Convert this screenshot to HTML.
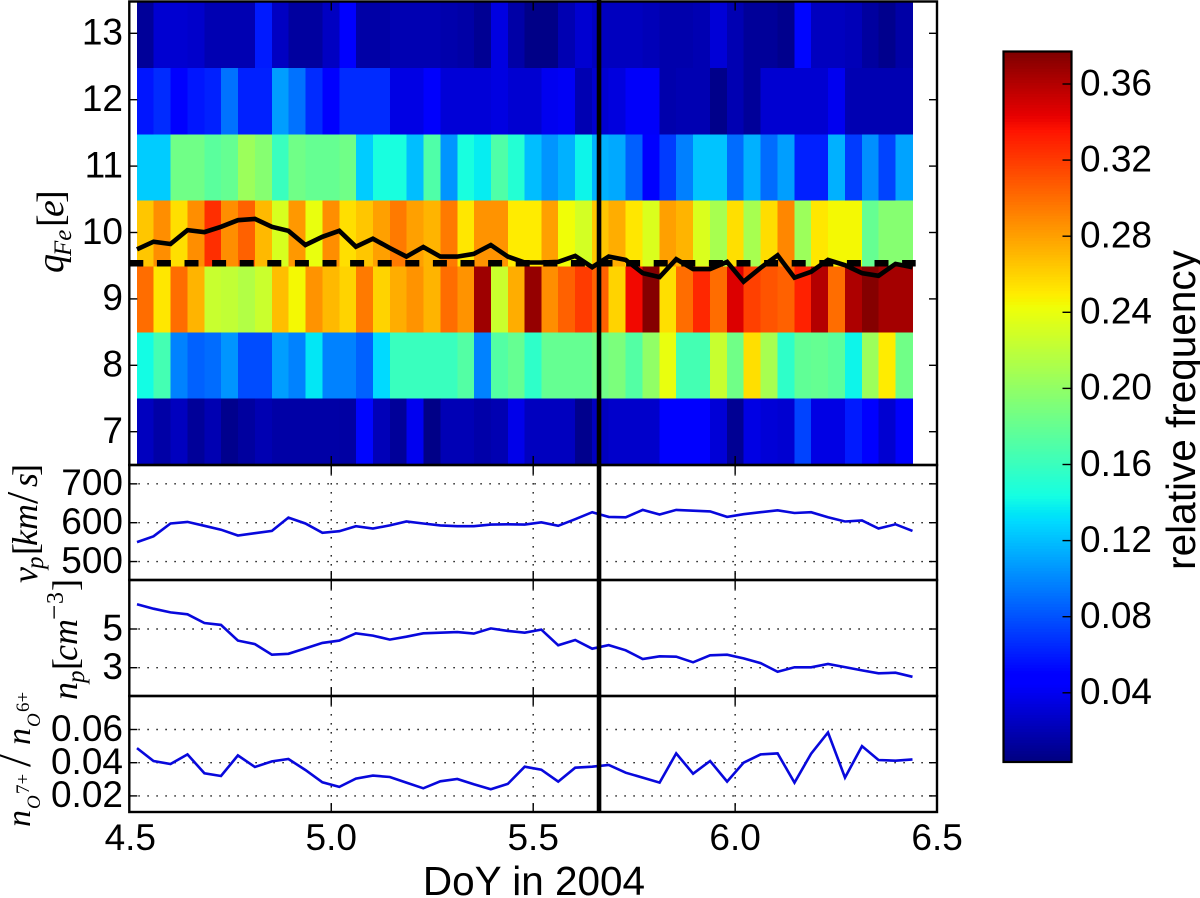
<!DOCTYPE html>
<html>
<head>
<meta charset="utf-8">
<title>Fe charge state heatmap</title>
<style>
html,body{margin:0;padding:0;background:#fff;}
svg{display:block;}
text{fill:#000;font-family:"Liberation Sans",sans-serif;}
.tick{font-size:37px;}
.axis{font-size:40.5px;}
.math{font-family:"Liberation Serif",serif;font-style:italic;font-size:36px;}
.math .up{font-style:normal;}
</style>
</head>
<body>
<svg id="chart" xmlns="http://www.w3.org/2000/svg" width="1200" height="898" viewBox="0 0 1200 898">
  <rect x="0" y="0" width="1200" height="898" fill="#fff"/>
  <g id="heat" shape-rendering="crispEdges"></g>
  <g id="grid"></g>
  <g id="series"></g>
  <g id="ticks"></g>
  <g id="frames"></g>
  <g id="event"></g>
  <g id="labels"></g>
  <g id="colorbar"></g>

  <text class="axis" x="534" y="895" text-anchor="middle">DoY in 2004</text>
  <text class="axis" transform="translate(1195,410) rotate(-90)" text-anchor="middle">relative frequency</text>

  <text class="math" transform="translate(63,273) rotate(-90)" style="font-size:38px">q<tspan x="17" dy="8" font-size="25">Fe</tspan><tspan class="up" x="46" dy="-8">[</tspan><tspan x="56">e</tspan><tspan class="up" x="70">]</tspan></text>
  <text class="math" transform="translate(37,583) rotate(-90)">v<tspan x="14" dy="6" font-size="25">p</tspan><tspan class="up" x="28" dy="-6">[</tspan><tspan x="37">km</tspan><tspan class="up" x="79" font-size="44">/</tspan><tspan x="96">s</tspan><tspan class="up" x="107">]</tspan></text>
  <text class="math" transform="translate(77,700) rotate(-90)">n<tspan x="17" dy="7" font-size="25">p</tspan><tspan class="up" x="30" dy="-7">[</tspan><tspan x="39">cm</tspan><tspan class="up" x="80" dy="-14" font-size="27">&#8722;</tspan><tspan class="up" x="96" font-size="24">3</tspan><tspan class="up" x="109" dy="14">]</tspan></text>
  <text class="math" transform="translate(30,827) rotate(-90)" style="font-size:34px">n<tspan x="18" dy="10" font-size="19">O</tspan><tspan class="up" x="33" dy="-11" font-size="19">7+</tspan><tspan class="up" x="60" dy="1" font-size="46">/</tspan><tspan x="82">n</tspan><tspan x="100" dy="10" font-size="19">O</tspan><tspan class="up" x="115" dy="-11" font-size="19">6+</tspan></text>
</svg>
<script>
const doy=[4.519,4.560,4.602,4.644,4.686,4.727,4.769,4.811,4.853,4.894,4.936,4.978,5.020,5.061,5.103,5.145,5.186,5.228,5.270,5.312,5.353,5.395,5.437,5.479,5.520,5.562,5.604,5.646,5.687,5.729,5.771,5.813,5.854,5.896,5.938,5.980,6.021,6.063,6.105,6.147,6.188,6.230,6.272,6.314,6.355,6.397,6.439];
const chargeStates=[13,12,11,10,9,8,7];
const freqQ13=[.012,.03,.03,.028,.02,.02,.02,.06,.025,.014,.014,.025,.045,.016,.016,.02,.02,.02,.018,.016,.01,.035,.016,.006,.006,.02,.03,.024,.024,.024,.022,.018,.018,.02,.032,.02,.012,.012,.008,.052,.024,.024,.022,.014,.008,.016];
const freqQ12=[.058,.066,.045,.058,.062,.092,.062,.062,.108,.092,.066,.045,.066,.066,.066,.036,.036,.044,.032,.032,.032,.035,.03,.03,.04,.042,.02,.03,.034,.043,.043,.018,.02,.02,.007,.02,.012,.03,.03,.03,.03,.04,.02,.02,.02,.02];
const freqQ11=[.125,.125,.185,.185,.175,.18,.205,.195,.16,.185,.18,.18,.185,.125,.145,.145,.12,.17,.105,.145,.137,.17,.15,.12,.105,.115,.14,.115,.112,.085,.045,.072,.097,.122,.122,.09,.115,.09,.108,.062,.062,.115,.072,.103,.075,.11];
const freqQ10=[.265,.287,.255,.287,.325,.287,.305,.27,.232,.283,.24,.287,.255,.265,.28,.295,.28,.272,.295,.252,.285,.285,.25,.25,.28,.243,.23,.265,.275,.252,.233,.28,.272,.233,.21,.255,.21,.256,.29,.205,.252,.245,.245,.18,.195,.195];
const freqQ9=[.3,.252,.3,.272,.225,.222,.215,.226,.268,.245,.285,.27,.26,.295,.26,.275,.285,.272,.3,.285,.367,.226,.275,.37,.287,.305,.32,.305,.26,.34,.375,.255,.3,.328,.3,.347,.318,.31,.305,.33,.36,.3,.362,.375,.365,.365];
const freqQ8=[.143,.165,.098,.086,.09,.105,.078,.078,.108,.098,.135,.098,.098,.086,.13,.16,.16,.16,.16,.172,.098,.172,.18,.155,.18,.18,.18,.185,.19,.172,.2,.24,.165,.165,.225,.185,.255,.21,.155,.178,.18,.175,.14,.205,.25,.185];
const freqQ7=[.024,.016,.024,.012,.02,.008,.014,.02,.016,.016,.016,.016,.015,.052,.022,.012,.04,.006,.021,.021,.017,.02,.038,.024,.024,.024,.008,.024,.028,.028,.028,.045,.045,.05,.032,.01,.036,.032,.03,.075,.036,.036,.06,.045,.03,.044];
const heatRows=[freqQ13,freqQ12,freqQ11,freqQ10,freqQ9,freqQ8,freqQ7];
const meanCharge=[9.76,9.875,9.84,10.05,10.02,10.10,10.2,10.22,10.10,10.04,9.825,9.95,10.04,9.80,9.92,9.78,9.65,9.795,9.65,9.65,9.69,9.825,9.65,9.56,9.56,9.57,9.66,9.49,9.65,9.60,9.40,9.34,9.61,9.46,9.46,9.57,9.27,9.48,9.67,9.33,9.42,9.60,9.52,9.40,9.36,9.54,9.49];
const overallCharge=[9.55];
const dashedSpan=[4.5,6.447];
const eventDoy=[5.663];
const speed=[550,565,598,602,592,582,567,573,579,613,598,574,578,591,585,593,603,598,593,591,591,595,596,595,601,592,609,627,615,614,633,621,633,631,629,615,622,627,632,625,627,614,603,606,585,596,579];
const density=[6.28,6.05,5.86,5.76,5.31,5.21,4.40,4.22,3.67,3.72,4.0,4.28,4.40,4.78,4.66,4.45,4.6,4.78,4.81,4.84,4.76,5.03,4.9,4.81,4.97,4.16,4.43,3.98,4.17,3.9,3.45,3.59,3.57,3.28,3.64,3.67,3.48,3.24,2.79,3.02,3.02,3.19,3.03,2.86,2.71,2.74,2.53];
const oxygenRatio=[.0488,.041,.0392,.045,.0336,.032,.0444,.0374,.0408,.0422,.0356,.0282,.0254,.0304,.0322,.0314,.028,.0246,.0288,.0302,.027,.024,.0272,.0376,.0358,.0286,.037,.0376,.0386,.034,.031,.028,.0456,.0334,.041,.0286,.04,.045,.0456,.028,.0454,.0582,.031,.05,.0416,.0412,.042];
const xTicks=[4.5,5.0,5.5,6.0,6.5];
const xTickLabels=["4.5","5.0","5.5","6.0","6.5"];
const qTicks=[7,8,9,10,11,12,13];
const speedTicks=[500,600,700];
const densityTicks=[3,5];
const ratioTicks=[0.02,0.04,0.06];
const ratioTickLabels=["0.02","0.04","0.06"];
const cbTicks=[0.04,0.08,0.12,0.16,0.20,0.24,0.28,0.32,0.36];
const cbTickLabels=["0.04","0.08","0.12","0.16","0.20","0.24","0.28","0.32","0.36"];
const colorRange=[0.0037,0.3768];

const NS="http://www.w3.org/2000/svg";
const L=129.3,R=937;
const X=d=>L+(d-4.5)*403.9;
const yQ=q=>266.5+(9.5-q)*66.1;
const yQTick=q=>431.7-(q-7)*66.4;
const yV=v=>522.7-(v-600)*0.3885;
const yN=n=>629-(n-5)*19.35;
const yR=r=>762.7-(r-0.04)*1660;
const yC=v=>84+(0.36-v)*1902.5;
const panels=[{top:1.5,bot:465},{top:465,bot:580},{top:580,bot:696},{top:696,bot:812}];
const LABEL_SHIFT=11.3;

function ramp(t,a,b,va,vb){return va+(vb-va)*Math.min(1,Math.max(0,(t-a)/(b-a)));}
function jet(v){
  const t=(v-colorRange[0])/(colorRange[1]-colorRange[0]);
  const r=t<.89?ramp(t,.35,.66,0,1):ramp(t,.89,1,1,.5);
  const g=t<.64?ramp(t,.125,.375,0,1):ramp(t,.64,.91,1,0);
  const b=t<.34?ramp(t,0,.11,.5,1):ramp(t,.34,.65,1,0);
  return "rgb("+Math.round(r*255)+","+Math.round(g*255)+","+Math.round(b*255)+")";
}
function make(parent,tag,props){
  const el=document.createElementNS(NS,tag);
  for(const k in props){el.setAttribute(k,props[k]);}
  parent.appendChild(el);
  return el;
}
const gHeat=document.getElementById("heat"),gGrid=document.getElementById("grid"),gSeries=document.getElementById("series"),
  gTicks=document.getElementById("ticks"),gFrames=document.getElementById("frames"),gEvent=document.getElementById("event"),
  gLabels=document.getElementById("labels"),gCb=document.getElementById("colorbar");

heatRows.forEach((row,ri)=>{
  const q=chargeStates[ri];
  row.forEach((val,ci)=>{
    const cell=make(gHeat,"rect",{x:X(doy[ci]),y:yQ(q+0.5),width:X(doy[ci+1])-X(doy[ci])+0.3,height:yQ(q-0.5)-yQ(q+0.5)+0.3,fill:jet(val)});
    
    
  });
});

function polyPoints(values,yf){return values.map((v,i)=>X(doy[i]).toFixed(1)+","+yf(v).toFixed(1)).join(" ");}

const lineMean=make(gSeries,"polyline",{points:polyPoints(meanCharge,yQ),fill:"none",stroke:"#000","stroke-width":4.6,"stroke-linejoin":"miter"});


const lineDash=make(gSeries,"line",{x1:X(dashedSpan[0]),x2:X(dashedSpan[1]),y1:yQ(overallCharge[0]),y2:yQ(overallCharge[0]),stroke:"#000","stroke-width":6.5,"stroke-dasharray":"14 13.6"});



const lineSpeed=make(gSeries,"polyline",{points:polyPoints(speed,yV),fill:"none",stroke:"#0808dc","stroke-width":2.6});


const lineDensity=make(gSeries,"polyline",{points:polyPoints(density,yN),fill:"none",stroke:"#0808dc","stroke-width":2.6});


const lineRatio=make(gSeries,"polyline",{points:polyPoints(oxygenRatio,yR),fill:"none",stroke:"#0808dc","stroke-width":2.6});



// horizontal grid and y ticks
const yTickSets=[{vals:qTicks,f:yQTick,grid:false,fmt:v=>String(v)},
  {vals:speedTicks,f:yV,grid:true,fmt:v=>String(v)},
  {vals:densityTicks,f:yN,grid:true,fmt:v=>String(v)},
  {vals:ratioTicks,f:yR,grid:true,fmt:(v,i)=>ratioTickLabels[i]}];
yTickSets.forEach(set=>{
  set.vals.forEach((v,i)=>{
    const y=set.f(v);
    if(set.grid){
      const gl=make(gGrid,"line",{x1:L,x2:R,y1:y,y2:y,stroke:"#222","stroke-width":1.4,"stroke-dasharray":"1.6 7.4"});
      
      
    }
    const tl=make(gTicks,"line",{x1:L,x2:L+8,y1:y,y2:y,stroke:"#000","stroke-width":1.4});
    
    
    const tr=make(gTicks,"line",{x1:R-8,x2:R,y1:y,y2:y,stroke:"#000","stroke-width":1.4});
    
    
    const lab=make(gLabels,"text",{x:123,y:y+LABEL_SHIFT,"text-anchor":"end",class:"tick"});
    lab.textContent=set.fmt(v,i);
    
    
  });
});

// vertical grid and x ticks
xTicks.forEach((d,i)=>{
  const x=X(d);
  panels.forEach((p,pi)=>{
    if(pi>0 && i>0 && i<xTicks.length-1){
      const gv=make(gGrid,"line",{x1:x,x2:x,y1:p.top,y2:p.bot,stroke:"#222","stroke-width":1.4,"stroke-dasharray":"1.6 7.4"});
      
      
    }
    const t1=make(gTicks,"line",{x1:x,x2:x,y1:p.top,y2:p.top+9,stroke:"#000","stroke-width":1.4});
    
    
    const t2=make(gTicks,"line",{x1:x,x2:x,y1:p.bot-9,y2:p.bot,stroke:"#000","stroke-width":1.4});
    
    
  });
  const lab=make(gLabels,"text",{x:x+(i===0?1:0),y:850,"text-anchor":"middle",class:"tick"});
  lab.textContent=xTickLabels[i];
  
  
});

// panel frames
panels.forEach(p=>{
  const fr=make(gFrames,"rect",{x:L,y:p.top,width:R-L,height:p.bot-p.top,fill:"none",stroke:"#000","stroke-width":2.4});
  
  
});

// event marker
const evLine=make(gEvent,"line",{x1:X(eventDoy[0]),x2:X(eventDoy[0]),y1:0,y2:812,stroke:"#000","stroke-width":4.6});



// colorbar
const CBL=1003.5,CBR=1071.5,CBT=51.5,CBB=762;
for(let i=0;i<256;i++){
  const v0=colorRange[0]+(colorRange[1]-colorRange[0])*i/256;
  const v1=colorRange[0]+(colorRange[1]-colorRange[0])*(i+1)/256;
  const seg=make(gCb,"rect",{x:CBL,y:yC(v1),width:CBR-CBL,height:yC(v0)-yC(v1)+0.4,fill:jet((v0+v1)/2),"shape-rendering":"crispEdges"});
  
  
}
const cbFrame=make(gCb,"rect",{x:CBL,y:CBT,width:CBR-CBL,height:CBB-CBT,fill:"none",stroke:"#000","stroke-width":2.2});


cbTicks.forEach((v,i)=>{
  const y=yC(v);
  const t=make(gCb,"line",{x1:CBR-9,x2:CBR,y1:y,y2:y,stroke:"#000","stroke-width":1.4});
  
  
  const lab=make(gCb,"text",{x:1080,y:y+LABEL_SHIFT,class:"tick"});
  lab.textContent=cbTickLabels[i];
  
  
});
</script>
</body>
</html>
